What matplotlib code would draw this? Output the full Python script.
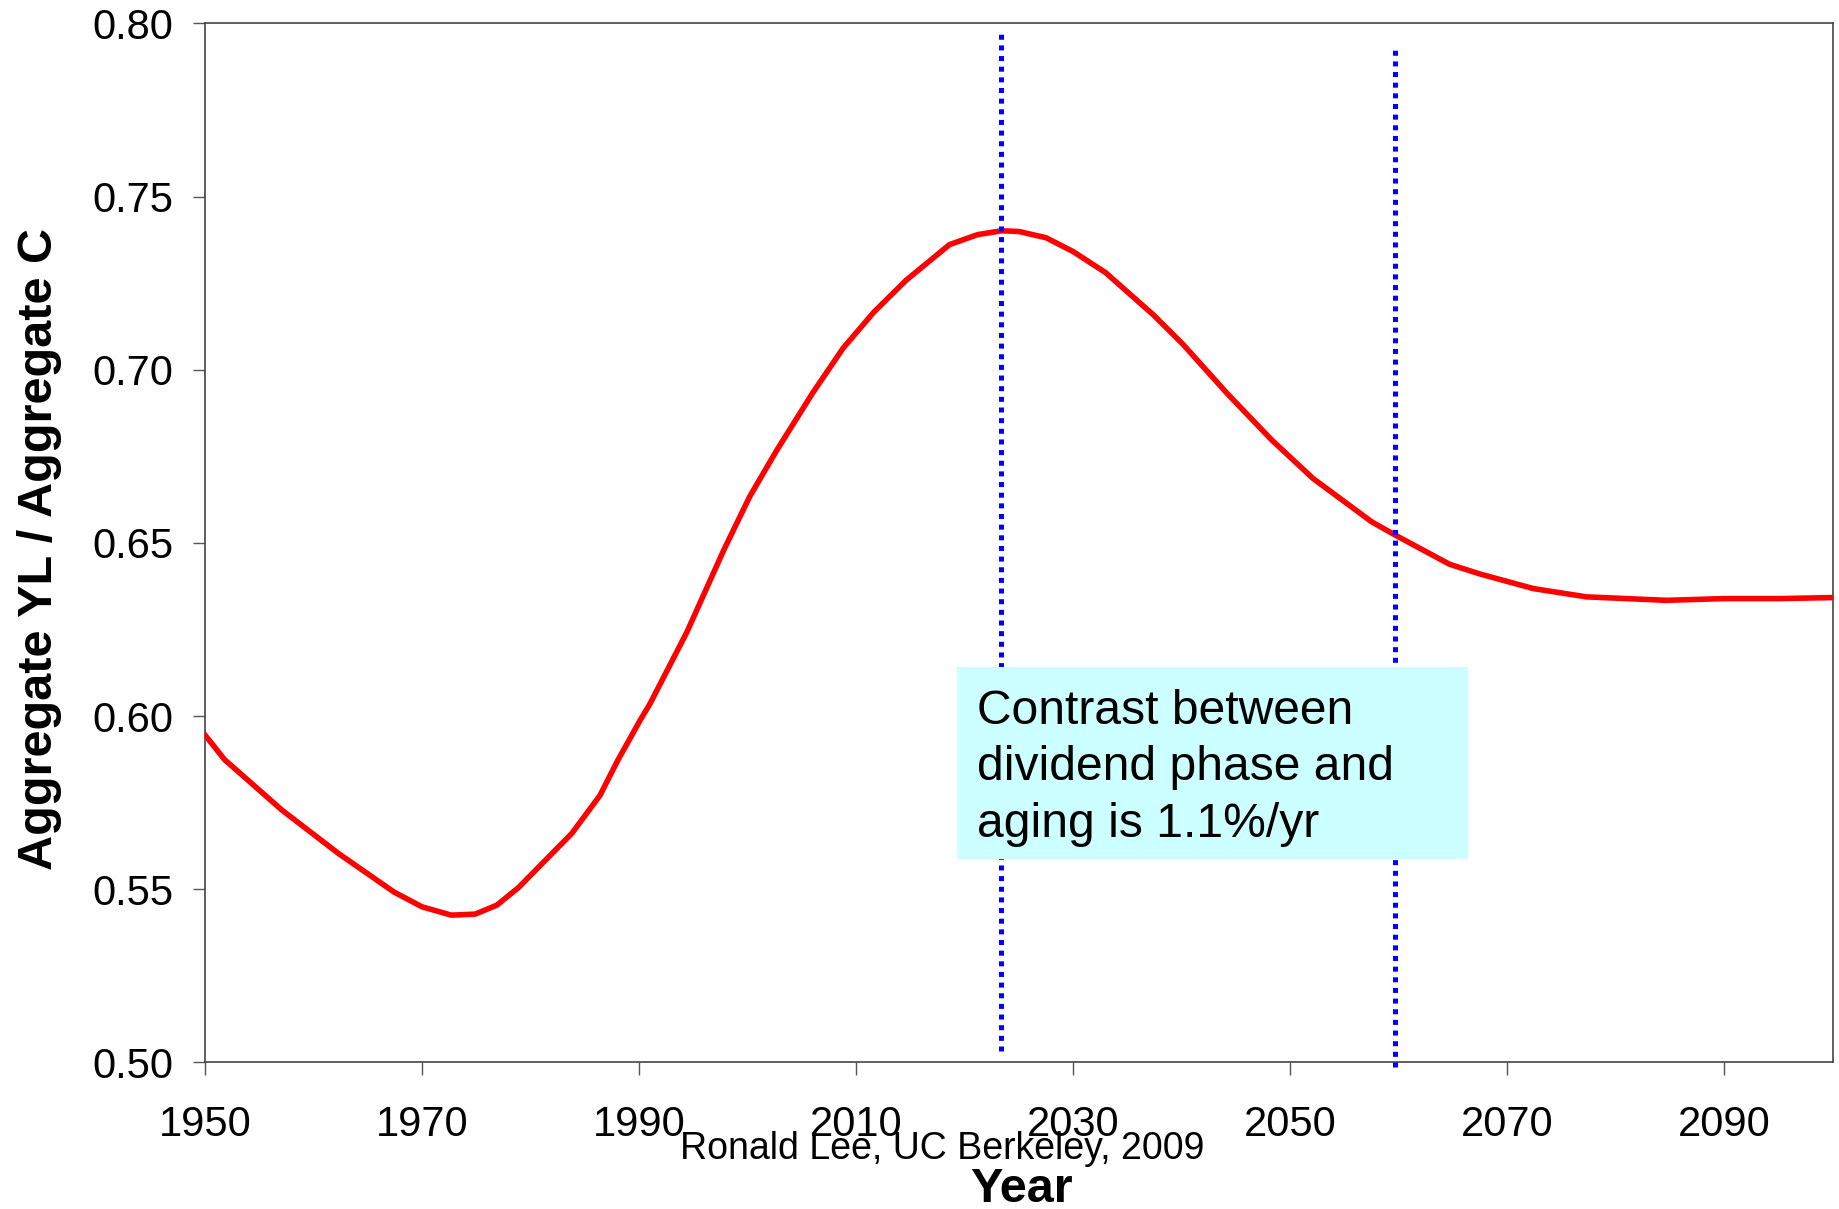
import matplotlib
matplotlib.use("Agg")
import matplotlib.pyplot as plt
from matplotlib.patches import Rectangle

plt.rcParams["font.family"] = ["Liberation Sans", "DejaVu Sans"]

# ratio of aggregate labour income to aggregate consumption
years = [1950, 1951.8, 1957.1, 1962.3, 1967.4, 1970.0, 1972.7, 1974.9, 1976.9,
         1978.9, 1983.8, 1986.4, 1988.0, 1990.1, 1991.0, 1994.4, 1997.8, 2000.2,
         2002.7, 2006.0, 2008.8, 2011.6, 2014.6, 2018.6, 2021.2, 2023.4, 2025.0,
         2027.5, 2030.0, 2033.0, 2037.4, 2040.1, 2044.2, 2048.3, 2052.1, 2057.5,
         2059.7, 2064.7, 2067.5, 2072.4, 2077.3, 2084.7, 2089.9, 2095.1, 2100.0]
ratio = [0.5945, 0.5874, 0.5728, 0.5603, 0.5492, 0.5449, 0.5425, 0.5428, 0.5454,
         0.5505, 0.5661, 0.5771, 0.5870, 0.5988, 0.6035, 0.6242, 0.6479, 0.6634,
         0.6768, 0.6933, 0.7062, 0.7165, 0.7258, 0.7361, 0.7390, 0.7401, 0.7399,
         0.7381, 0.7341, 0.7280, 0.7158, 0.7074, 0.6931, 0.6797, 0.6686, 0.6561,
         0.6522, 0.6438, 0.6410, 0.6368, 0.6344, 0.6334, 0.6339, 0.6339, 0.6342]

# dotted markers: (year, y_bottom, y_top)
phase_lines = [(2023.34, 0.5033, 0.7974), (2059.7, 0.4987, 0.7929)]

x_ticks = list(range(1950, 2100, 20))
y_ticks = [0.50, 0.55, 0.60, 0.65, 0.70, 0.75, 0.80]

note_lines = ["Contrast between", "dividend phase and", "aging is 1.1%/yr"]
note_baselines = [0.5978, 0.5815, 0.5651]
note_box = (2019.3, 0.5586, 2066.4, 0.6141)   # x0, y0, x1, y1

fig = plt.figure(figsize=(18.39, 12.09), dpi=100)
ax = fig.add_axes([0.1115, 0.1213, 0.8851, 0.8594])

ax.plot(years, ratio, color="#FF0000", lw=4, solid_joinstyle="round", zorder=3)

for x, y0, y1 in phase_lines:
    ax.plot([x, x], [y0, y1], color="#0000FF", lw=3.6,
            linestyle=(0, (1, 1.13)), clip_on=False, zorder=4)

x0, y0, x1, y1 = note_box
ax.add_patch(Rectangle((x0, y0), x1 - x0, y1 - y0, facecolor="#CCFFFF",
                       edgecolor="none", zorder=5))
for line, yb in zip(note_lines, note_baselines):
    ax.text(2021.14, yb, line, fontsize=34.6, ha="left", va="baseline", zorder=6)

ax.set_xlim(1950, 2100)
ax.set_ylim(0.50, 0.80)
ax.set_xticks(x_ticks)
ax.set_yticks(y_ticks)
ax.set_yticklabels([f"{v:.2f}" for v in y_ticks])
ax.tick_params(axis="x", direction="out", length=9.4, width=1, color="#555555",
               labelsize=30, pad=21)
ax.tick_params(axis="y", direction="out", length=9, width=1, color="#555555",
               labelsize=30, pad=14)
for sp in ax.spines.values():
    sp.set_color("#444444")
    sp.set_linewidth(1.2)

ax.set_ylabel("Aggregate YL / Aggregate C", fontsize=35, fontweight="bold")
ax.yaxis.set_label_coords(-0.088, 0.494)

fig.text(1021 / 1839, 1 - 1202 / 1209, "Year", fontsize=35, fontweight="bold",
         ha="center", va="baseline")
fig.text(680 / 1839, 1 - 1159 / 1209, "Ronald Lee, UC Berkeley, 2009",
         fontsize=27, ha="left", va="baseline")

fig.savefig("out.png", dpi=100)
